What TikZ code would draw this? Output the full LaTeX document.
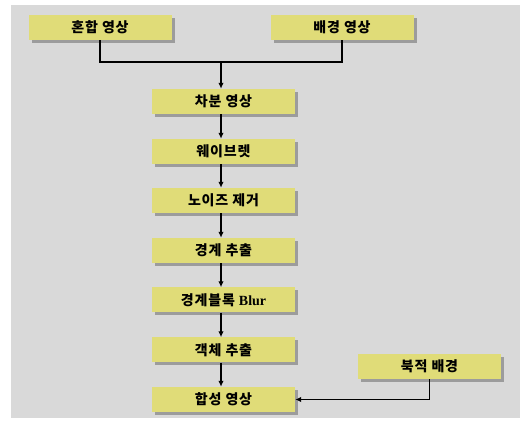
\documentclass[tikz,border=0pt]{standalone}
\usepackage{fontspec}
\setmainfont{Noto Sans CJK KR}
\newfontfamily\kofont[LetterSpace=6]{Noto Sans CJK KR}
\newfontfamily\latinserif{Liberation Serif}
\usetikzlibrary{arrows.meta,shadows}
\definecolor{bgray}{HTML}{D9D9D9}
\definecolor{boxyellow}{HTML}{E0DC78}
\definecolor{shadowgray}{HTML}{9C9C9C}
\tikzset{
  stepbox/.style={rectangle, fill=boxyellow, minimum width=143pt, minimum height=25pt,
    inner sep=0pt, font=\kofont\bfseries\fontsize{14}{16}\selectfont,
    drop shadow={shadow xshift=3pt, shadow yshift=-3pt, fill=shadowgray, opacity=1}},
  conn/.style={line width=1.8pt, black},
  arr/.style={conn, -{Latex[length=6pt,width=5.5pt]}}
}
\begin{document}
\begin{tikzpicture}[x=1pt,y=-1pt]
\useasboundingbox (0,0) rectangle (520,422);
\fill[white] (0,0) rectangle (520,422);
\fill[bgray] (11,5) rectangle (520,418);
\node[stepbox] (mix) at (100,27.5) {혼합 영상};
\node[stepbox] (bg) at (342,27.5) {배경 영상};
\node[stepbox] (diff) at (223.5,101.5) {차분 영상};
\node[stepbox] (wav) at (223.5,151.5) {웨이브렛};
\node[stepbox] (noise) at (223.5,200.5) {노이즈 제거};
\node[stepbox] (edge) at (223.5,250.5) {경계 추출};
\node[stepbox] (blur) at (223.5,300) {경계블록 {\latinserif\bfseries Blur}};
\node[stepbox] (obj) at (223.5,350) {객체 추출};
\node[stepbox] (comp) at (223.5,399.5) {합성 영상};
\node[stepbox] (nb) at (429.5,366.5) {북적 배경};
\coordinate (j) at (221,62);
\draw[conn] (mix.south) |- (j) -| (bg.south);
\draw[arr] (j) -- (j |- diff.north);
\draw[arr] (diff.south -| j) -- (wav.north -| j);
\draw[arr] (wav.south -| j) -- (noise.north -| j);
\draw[arr] (noise.south -| j) -- (edge.north -| j);
\draw[arr] (edge.south -| j) -- (blur.north -| j);
\draw[arr] (blur.south -| j) -- (obj.north -| j);
\draw[arr] (obj.south -| j) -- (comp.north -| j);
\draw[arr] (nb.south) |- (comp.east);
\end{tikzpicture}
\end{document}
